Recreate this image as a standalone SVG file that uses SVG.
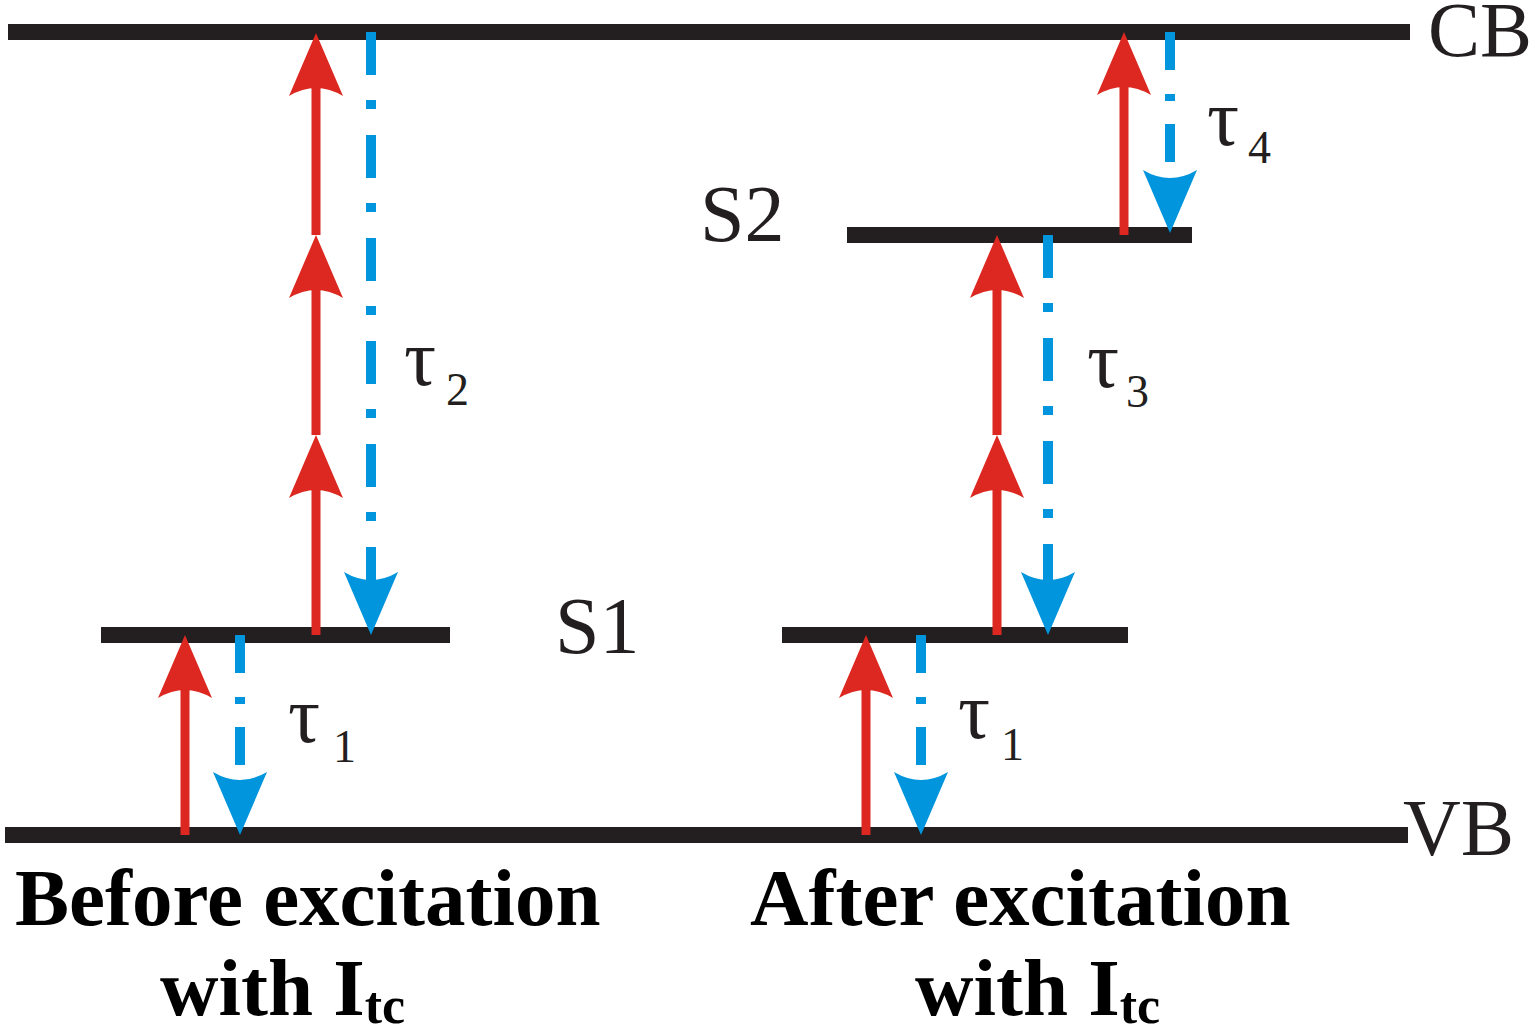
<svg xmlns="http://www.w3.org/2000/svg" width="1535" height="1033" viewBox="0 0 1535 1033">
<style>
.lvl{fill:#231f20}
.up{stroke:#dc2820;stroke-width:9;fill:none;marker-end:url(#hr)}
.dn{stroke:#0095dd;stroke-width:10;fill:none;marker-end:url(#hb)}
.dl{stroke-dasharray:43 25 9 26}
.ds{stroke-dasharray:38 24 7 23}
.lab{font-family:"Liberation Serif","Times New Roman",serif;fill:#231f20}
.big{font-size:80px}
.tau{font-size:80px}
.sub{font-size:46px}
.ttl{font-family:"Liberation Serif","Times New Roman",serif;font-weight:bold;font-size:81px;fill:#000}
.tsub{font-size:52px}
</style>
<defs>
<marker id="hr" markerUnits="userSpaceOnUse" viewBox="-23 -28 64 56" markerWidth="64" markerHeight="56" refX="0" refY="0" orient="auto">
<path d="M40,0 L-23,-27 Q-7,0 -23,27 Z" fill="#dc2820"/>
</marker>
<marker id="hb" markerUnits="userSpaceOnUse" viewBox="-23 -28 64 56" markerWidth="64" markerHeight="56" refX="0" refY="0" orient="auto">
<path d="M40,0 L-23,-27 Q-7,0 -23,27 Z" fill="#0095dd"/>
</marker>
</defs>
<g id="levels">
<rect id="CB" class="lvl" x="8" y="24" width="1402" height="16"/>
<rect id="VB" class="lvl" x="5" y="827" width="1403" height="16"/>
<rect id="S1-left" class="lvl" x="101" y="627" width="349" height="16"/>
<rect id="S1-right" class="lvl" x="782" y="627" width="346" height="16"/>
<rect id="S2" class="lvl" x="847" y="227" width="345" height="16"/>
</g>
<g id="connectors">
<line class="up" x1="185" y1="835" x2="185" y2="675"/>
<line class="dn ds" x1="240" y1="635" x2="240" y2="795"/>
<line class="up" x1="316" y1="635" x2="316" y2="475"/>
<line class="up" x1="316" y1="435" x2="316" y2="275"/>
<line class="up" x1="316" y1="235" x2="316" y2="73"/>
<line class="dn dl" x1="371" y1="32" x2="371" y2="595"/>
<line class="up" x1="866" y1="835" x2="866" y2="675"/>
<line class="dn ds" x1="921" y1="635" x2="921" y2="795"/>
<line class="up" x1="997" y1="635" x2="997" y2="475"/>
<line class="up" x1="997" y1="435" x2="997" y2="275"/>
<line class="dn dl" x1="1048" y1="235" x2="1048" y2="595"/>
<line class="up" x1="1124" y1="235" x2="1124" y2="72"/>
<line class="dn ds" x1="1170" y1="32" x2="1170" y2="193"/>
</g>
<g id="labels">
<text class="lab" x="1428" y="56" font-size="78">CB</text>
<text class="lab big" x="1403" y="855">VB</text>
<text class="lab big" x="555" y="653">S1</text>
<text class="lab big" x="700" y="241">S2</text>
<text class="lab" x="288" y="742"><tspan class="tau">τ</tspan><tspan class="sub" x="333" y="762">1</tspan></text>
<text class="lab" x="404" y="385"><tspan class="tau">τ</tspan><tspan class="sub" x="446" y="405">2</tspan></text>
<text class="lab" x="958" y="738"><tspan class="tau">τ</tspan><tspan class="sub" x="1001" y="760">1</tspan></text>
<text class="lab" x="1087" y="387"><tspan class="tau">τ</tspan><tspan class="sub" x="1126" y="407">3</tspan></text>
<text class="lab" x="1207" y="145"><tspan class="tau" font-size="72">τ</tspan><tspan class="sub" x="1248" y="163">4</tspan></text>
<text class="ttl" x="15" y="925">Before excitation</text>
<text class="ttl" x="160" y="1015">with I<tspan class="tsub" dy="8">tc</tspan></text>
<text class="ttl" x="750" y="925">After excitation</text>
<text class="ttl" x="915" y="1015">with I<tspan class="tsub" dy="8">tc</tspan></text>
</g>
</svg>
